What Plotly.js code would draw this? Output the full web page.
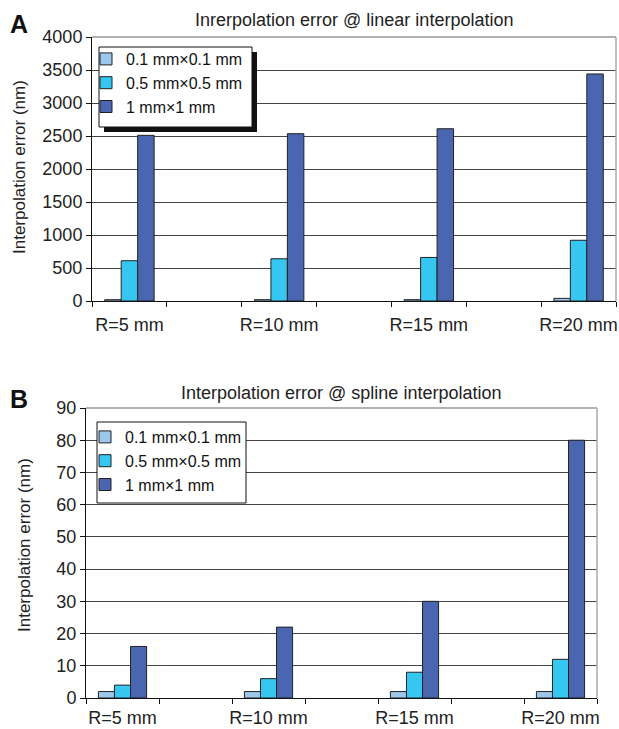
<!DOCTYPE html>
<html>
<head>
<meta charset="utf-8">
<script src="https://cdn.plot.ly/plotly-3.0.1.min.js"></script>
<style>html,body{margin:0;padding:0;background:#fff;}#chart{width:619px;height:729px;}</style>
</head>
<body>
<div id="chart"></div>
<script>
// ---- data ----
const categories = ['R=5 mm', 'R=10 mm', 'R=15 mm', 'R=20 mm'];
// axis slots: blank spacer categories between the labelled ones
const axisSlots = ['R=5 mm', ' ', 'R=10 mm', '  ', 'R=15 mm', '   ', 'R=20 mm'];
const seriesNames = ['0.1 mm\u00d70.1 mm', '0.5 mm\u00d70.5 mm', '1 mm\u00d71 mm'];
const linear_01 = [20, 20, 20, 40];
const linear_05 = [610, 640, 660, 920];
const linear_1 = [2510, 2535, 2610, 3440];
const spline_01 = [2, 2, 2, 2];
const spline_05 = [4, 6, 8, 12];
const spline_1 = [16, 22, 30, 80];
const yTicksA = [0, 500, 1000, 1500, 2000, 2500, 3000, 3500, 4000];
const yTicksB = [0, 10, 20, 30, 40, 50, 60, 70, 80, 90];

// ---- style ----
const colors = ['#9cc8ec', '#36c6f2', '#4a66b0'];
const FONT = "'Liberation Sans', Arial, sans-serif";
const W = 619, H = 729;
const px = v => v / W;
const py = v => 1 - v / H;

function mk(y, i, xa, ya, leg) {
  return {
    type: 'bar', x: categories, y: y, name: seriesNames[i],
    xaxis: xa, yaxis: ya, legend: leg, legendgroup: leg + i,
    marker: {color: colors[i], line: {color: '#222', width: 1}},
    hoverinfo: 'skip'
  };
}
const data = [
  mk(linear_01, 0, 'x', 'y', 'legend'),
  mk(linear_05, 1, 'x', 'y', 'legend'),
  mk(linear_1, 2, 'x', 'y', 'legend'),
  mk(spline_01, 0, 'x2', 'y2', 'legend2'),
  mk(spline_05, 1, 'x2', 'y2', 'legend2'),
  mk(spline_1, 2, 'x2', 'y2', 'legend2')
];

const domA = {x: [px(92), px(616)], y: [py(301), py(37)]};
const domB = {x: [px(86), px(597)], y: [py(698), py(408)]};

function xax(dom, anchor, standoff) {
  return {
    domain: dom, anchor: anchor, type: 'category',
    categoryorder: 'array', categoryarray: axisSlots,
    range: [-0.5, 6.5], tickson: 'boundaries', tickangle: 0,
    ticks: 'outside', ticklen: 5, tickcolor: '#111', tickwidth: 1,
    ticklabelstandoff: standoff,
    showline: true, linecolor: '#111', linewidth: 1,
    showgrid: false, zeroline: false, automargin: false,
    tickfont: {family: FONT, size: 18, color: '#222'}
  };
}
function yax(dom, anchor, ticks, range) {
  return {
    domain: dom, anchor: anchor, range: range, tickvals: ticks,
    ticktext: ticks.map(String),
    ticks: 'outside', ticklen: 5, tickcolor: '#111', tickwidth: 1,
    showline: true, linecolor: '#111', linewidth: 1,
    showgrid: true, gridcolor: '#444', gridwidth: 1,
    zeroline: false, automargin: false,
    tickfont: {family: FONT, size: 18, color: '#222'}
  };
}

const legStyle = (x, y) => ({
  x: x, y: y, xanchor: 'left', yanchor: 'top',
  bgcolor: 'rgba(0,0,0,0)', borderwidth: 0,
  font: {family: FONT, size: 16, color: '#111'},
  traceorder: 'normal', tracegroupgap: 4, itemclick: false
});

const layout = {
  width: W, height: H,
  margin: {l: 0, r: 0, t: 0, b: 0},
  paper_bgcolor: '#fff', plot_bgcolor: '#fff',
  barmode: 'group', bargap: 0.34, bargroupgap: 0,
  showlegend: true,
  xaxis: xax(domA.x, 'y', 7),
  yaxis: yax(domA.y, 'x', yTicksA, [0, 4000]),
  xaxis2: xax(domB.x, 'y2', 3),
  yaxis2: yax(domB.y, 'x2', yTicksB, [0, 90]),
  legend: legStyle(px(86), py(42)),
  legend2: legStyle(px(85), py(420)),
  shapes: [
    // light frame top/right
    {type: 'line', xref: 'x domain', yref: 'y domain', x0: 0, x1: 1, y0: 1, y1: 1, line: {color: '#999', width: 1.5}},
    {type: 'line', xref: 'x domain', yref: 'y domain', x0: 1, x1: 1, y0: 0, y1: 1, line: {color: '#aaa', width: 1.5}},
    {type: 'line', xref: 'x2 domain', yref: 'y2 domain', x0: 0, x1: 1, y0: 1, y1: 1, line: {color: '#999', width: 1.5}},
    {type: 'line', xref: 'x2 domain', yref: 'y2 domain', x0: 1, x1: 1, y0: 0, y1: 1, line: {color: '#aaa', width: 1.5}},
    // legend A shadow + box
    {type: 'rect', xref: 'paper', yref: 'paper', layer: 'above', x0: px(104), x1: px(257), y0: py(132), y1: py(52), fillcolor: '#111', line: {width: 0}},
    {type: 'rect', xref: 'paper', yref: 'paper', layer: 'above', x0: px(99), x1: px(252), y0: py(127), y1: py(47), fillcolor: '#fff', line: {color: '#111', width: 1}},
    // legend B box
    {type: 'rect', xref: 'paper', yref: 'paper', layer: 'above', x0: px(97), x1: px(246), y0: py(503), y1: py(422), fillcolor: '#fff', line: {color: '#111', width: 1}}
  ],
  annotations: [
    {text: '<b>A</b>', xref: 'paper', yref: 'paper', x: px(8), y: py(8), xanchor: 'left', yanchor: 'top', showarrow: false, font: {family: FONT, size: 25, color: '#111'}},
    {text: '<b>B</b>', xref: 'paper', yref: 'paper', x: px(8), y: py(383), xanchor: 'left', yanchor: 'top', showarrow: false, font: {family: FONT, size: 25, color: '#111'}},
    {text: 'Inrerpolation error @ linear interpolation', xref: 'paper', yref: 'paper', x: px(354), y: py(20), xanchor: 'center', yanchor: 'middle', showarrow: false, font: {family: FONT, size: 18, color: '#222'}},
    {text: 'Interpolation error @ spline interpolation', xref: 'paper', yref: 'paper', x: px(341), y: py(393), xanchor: 'center', yanchor: 'middle', showarrow: false, font: {family: FONT, size: 18, color: '#222'}},
    {text: 'Interpolation error (nm)', xref: 'paper', yref: 'paper', x: px(19), y: py(167), xanchor: 'center', yanchor: 'middle', textangle: -90, showarrow: false, font: {family: FONT, size: 17, color: '#222'}},
    {text: 'Interpolation error (nm)', xref: 'paper', yref: 'paper', x: px(24), y: py(545), xanchor: 'center', yanchor: 'middle', textangle: -90, showarrow: false, font: {family: FONT, size: 17, color: '#222'}}
  ]
};

Plotly.newPlot('chart', data, layout, {staticPlot: true, displayModeBar: false});
</script>
</body>
</html>
